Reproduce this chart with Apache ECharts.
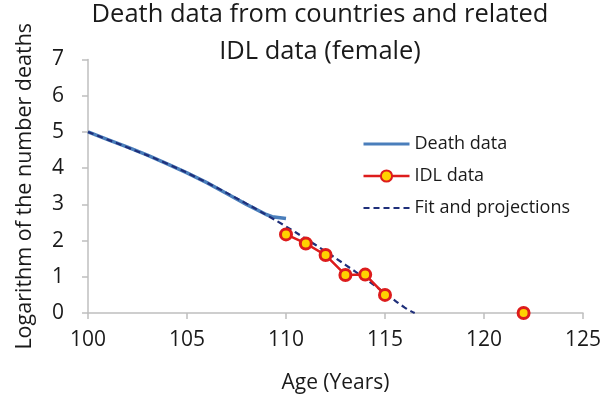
<!DOCTYPE html>
<html>
<head>
<meta charset="utf-8">
<script src="https://cdn.jsdelivr.net/npm/echarts@6/dist/echarts.min.js"></script>
<style>
  html, body { margin: 0; padding: 0; background: #fff; }
  #chart { width: 608px; height: 399px; }
</style>
</head>
<body>
<div id="chart"></div>
<script>
// Observed deaths (log10 of count) by age
var deathAges   = [100, 101, 102, 103, 104, 105, 106, 107, 108, 109, 109.3, 110];
var deathValues = [5.0, 4.79, 4.58, 4.36, 4.12, 3.87, 3.6, 3.3, 3.0, 2.72, 2.66, 2.61];

// International Database on Longevity points ('-' breaks the line before 122)
var idlAges   = [110, 111, 112, 113, 114, 115, 116, 122];
var idlValues = [2.17, 1.92, 1.6, 1.05, 1.06, 0.5, '-', 0.0];

// Fitted curve and its projection to zero
var fitAges   = [100, 102, 104, 106, 108, 109, 110, 111, 112, 113, 114, 115, 116, 116.5];
var fitValues = [5.0, 4.57, 4.12, 3.6, 3.02, 2.71, 2.39, 2.05, 1.7, 1.33, 0.95, 0.55, 0.15, 0.0];

var xTicks = [100, 105, 110, 115, 120, 125];
var yTicks = [0, 1, 2, 3, 4, 5, 6, 7];

function pairs(xs, ys) {
  return xs.map(function (x, i) { return [x, ys[i]]; });
}

var FONT = 'Open Sans';
var TEXT = '#1a1a1a';
var chart = echarts.init(document.getElementById('chart'), null, { renderer: 'canvas' });

chart.setOption({
  animation: false,
  backgroundColor: '#ffffff',
  textStyle: { fontFamily: FONT },
  title: {
    text: 'Death data from countries and related\nIDL data (female)',
    left: 315,
    textAlign: 'center',
    top: -9,
    textStyle: { fontFamily: FONT, fontSize: 25.5, fontWeight: 'normal', color: TEXT, lineHeight: 37 }
  },
  legend: {
    orient: 'vertical',
    left: 357,
    top: 130,
    itemWidth: 46,
    itemHeight: 14,
    itemGap: 14,
    textStyle: { fontFamily: FONT, fontSize: 18, color: TEXT },
    data: [
      // plain line icons: hide the marker part of the legend glyph
      { name: 'Death data', itemStyle: { opacity: 0 }, lineStyle: { width: 3 } },
      { name: 'IDL data', lineStyle: { width: 2.5 } },
      { name: 'Fit and projections', itemStyle: { opacity: 0 }, lineStyle: { width: 2.2 } }
    ]
  },
  grid: { left: 88, right: 25, top: 59.5, bottom: 86, containLabel: false },
  xAxis: {
    type: 'value',
    min: xTicks[0],
    max: xTicks[xTicks.length - 1],
    interval: 5,
    name: 'Age (Years)',
    nameLocation: 'middle',
    nameGap: 60,
    nameTextStyle: { fontFamily: FONT, fontSize: 21, color: TEXT },
    axisLine: { lineStyle: { color: '#bfbfbf', width: 1.5 } },
    axisTick: { show: true, length: 6, lineStyle: { color: '#bfbfbf', width: 1.5 } },
    axisLabel: { fontFamily: FONT, fontSize: 21, color: TEXT, margin: 17 },
    splitLine: { show: false }
  },
  yAxis: {
    type: 'value',
    min: yTicks[0],
    max: yTicks[yTicks.length - 1],
    interval: 1,
    name: 'Logarithm of the number deaths',
    nameLocation: 'middle',
    nameGap: 52,
    nameTextStyle: { fontFamily: FONT, fontSize: 21.5, color: TEXT },
    axisLine: { show: true, lineStyle: { color: '#bfbfbf', width: 1.5 } },
    axisTick: { show: true, length: 6, lineStyle: { color: '#bfbfbf', width: 1.5 } },
    axisLabel: { fontFamily: FONT, fontSize: 21, color: TEXT, margin: 24 },
    splitLine: { show: false }
  },
  series: [
    {
      name: 'Death data',
      type: 'line',
      data: pairs(deathAges, deathValues),
      symbol: 'none',
      smooth: false,
      lineStyle: { color: '#4a7ebb', width: 3.5 },
      itemStyle: { color: '#4a7ebb' },
      z: 2
    },
    {
      name: 'IDL data',
      type: 'line',
      data: pairs(idlAges, idlValues),
      connectNulls: false,
      symbol: 'circle',
      symbolSize: 11,
      showAllSymbol: true,
      lineStyle: { color: '#dd1c1c', width: 2.5 },
      itemStyle: { color: '#ffd200', borderColor: '#dd1c1c', borderWidth: 3 },
      z: 4
    },
    {
      name: 'Fit and projections',
      type: 'line',
      data: pairs(fitAges, fitValues),
      symbol: 'none',
      smooth: true,
      lineStyle: { color: '#1f2f7a', width: 2.2, type: [6, 4] },
      itemStyle: { color: '#1f2f7a' },
      z: 3
    }
  ]
});
</script>
</body>
</html>
